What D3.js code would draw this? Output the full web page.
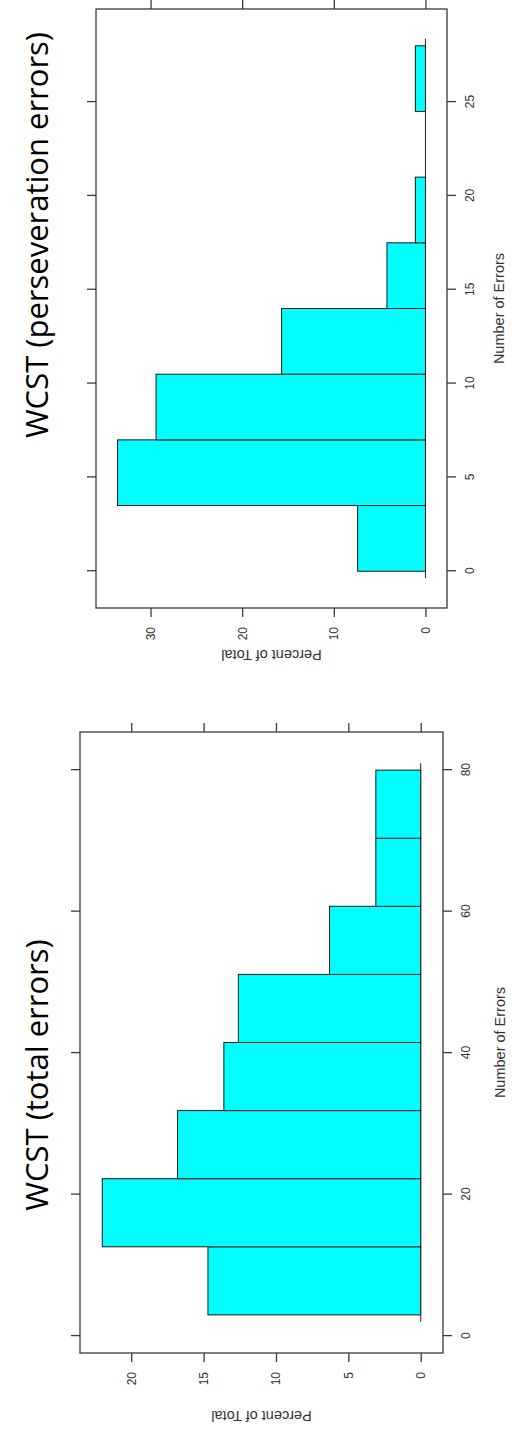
<!DOCTYPE html>
<html>
<head>
<meta charset="utf-8">
<script src="https://cdn.jsdelivr.net/npm/d3@7"></script>
<style>
  body { margin: 0; background: #fff; }
  svg { display: block; }
</style>
</head>
<body>
<svg id="chart" width="518" height="1434"></svg>
<script>
// WCST total errors: equal-width bins over 3..80
const totalBreaks = [3, 12.625, 22.25, 31.875, 41.5, 51.125, 60.75, 70.375, 80];
const totalPercent = [14.7, 22.0, 16.8, 13.6, 12.6, 6.3, 3.1, 3.1];
const totalErrorTicks = [0, 20, 40, 60, 80];
const totalPercentTicks = [0, 5, 10, 15, 20];

// WCST perseveration errors: bins of width 3.5 over 0..28
const persBreaks = [0, 3.5, 7, 10.5, 14, 17.5, 21, 24.5, 28];
const persPercent = [7.4, 33.6, 29.4, 15.7, 4.2, 1.1, 0, 1.1];
const persErrorTicks = [0, 5, 10, 15, 20, 25];
const persPercentTicks = [0, 10, 20, 30];

const svg = d3.select('#chart');
const axisColor = '#3a3a3a';
const labelFont = '"Liberation Sans", Arial, sans-serif';

// Each histogram is laid out as a normal lattice panel (errors along x, percent along y)
// and then turned a quarter turn counter-clockwise on the page.
function histogramPanel(o) {
  const W = o.bottom - o.top;   // panel width before rotation
  const H = o.right - o.left;   // panel height before rotation
  const g = svg.append('g')
    .attr('transform', `translate(${o.left},${o.bottom}) rotate(-90)`);

  const ext = d3.extent(o.breaks);
  const xPad = 0.07 * (ext[1] - ext[0]);
  const x = d3.scaleLinear().domain([ext[0] - xPad, ext[1] + xPad]).range([0, W]);
  const yMax = d3.max(o.percent);
  const yPad = 0.07 * yMax;
  const y = d3.scaleLinear().domain([-yPad, yMax + yPad]).range([H, 0]);

  const bins = o.percent.map((p, i) => ({ x0: o.breaks[i], x1: o.breaks[i + 1], p }));

  // zero line under the bars
  g.append('line')
    .attr('x1', x(ext[0]) - 7).attr('x2', x(ext[1]) + 7)
    .attr('y1', y(0)).attr('y2', y(0))
    .attr('stroke', '#222').attr('stroke-width', 1);

  g.selectAll('rect.bar').data(bins.filter(d => d.p > 0)).join('rect')
    .attr('class', 'bar')
    .attr('x', d => x(d.x0))
    .attr('width', d => x(d.x1) - x(d.x0))
    .attr('y', d => y(d.p))
    .attr('height', d => y(0) - y(d.p))
    .attr('fill', '#00FFFF')
    .attr('stroke', '#1a1a1a')
    .attr('stroke-width', 1);

  // panel box
  g.append('rect')
    .attr('x', 0).attr('y', 0).attr('width', W).attr('height', H)
    .attr('fill', 'none').attr('stroke', axisColor).attr('stroke-width', 1.3);

  const styleAxis = sel => {
    sel.select('.domain').remove();
    sel.selectAll('.tick line').attr('stroke', axisColor).attr('stroke-width', 1.3);
    sel.selectAll('.tick text')
      .attr('fill', '#333')
      .style('font-family', labelFont)
      .style('font-size', '12px');
  };

  g.append('g').attr('transform', `translate(0,${H})`)
    .call(d3.axisBottom(x).tickValues(o.errorTicks).tickSize(9).tickPadding(9))
    .call(styleAxis);
  g.append('g')
    .call(d3.axisTop(x).tickValues(o.errorTicks).tickSize(9).tickFormat(''))
    .call(styleAxis);
  g.append('g')
    .call(d3.axisLeft(y).tickValues(o.percentTicks).tickSize(9).tickPadding(10))
    .call(styleAxis);
  g.append('g').attr('transform', `translate(${W},0)`)
    .call(d3.axisRight(y).tickValues(o.percentTicks).tickSize(9).tickFormat(''))
    .call(styleAxis);

  g.append('text')
    .attr('x', W / 2).attr('y', H + o.xLabelGap)
    .attr('text-anchor', 'middle').attr('dominant-baseline', 'central')
    .attr('fill', '#333')
    .style('font-family', labelFont).style('font-size', '14.5px')
    .text('Number of Errors');

  g.append('text')
    .attr('transform', `translate(${-o.yLabelGap},${H / 2}) rotate(-90)`)
    .attr('text-anchor', 'middle').attr('dominant-baseline', 'central')
    .attr('fill', '#333')
    .style('font-family', labelFont).style('font-size', '14.5px')
    .text('Percent of Total');

  svg.append('text')
    .attr('transform', `translate(${o.titleX},${o.titleY}) rotate(-90)`)
    .attr('text-anchor', 'middle').attr('dominant-baseline', 'central')
    .attr('fill', '#000')
    .style('font-family', '"Open Sans", "Noto Sans", sans-serif')
    .style('font-size', o.titleSize + 'px')
    .text(o.title);
}

histogramPanel({
  left: 96, right: 447, top: 9, bottom: 608,
  breaks: persBreaks, percent: persPercent,
  errorTicks: persErrorTicks, percentTicks: persPercentTicks,
  xLabelGap: 52, yLabelGap: 47,
  title: 'WCST (perseveration errors)', titleX: 36, titleY: 235, titleSize: 31
});

histogramPanel({
  left: 80, right: 443, top: 732, bottom: 1353,
  breaks: totalBreaks, percent: totalPercent,
  errorTicks: totalErrorTicks, percentTicks: totalPercentTicks,
  xLabelGap: 57, yLabelGap: 63,
  title: 'WCST (total errors)', titleX: 36, titleY: 1075, titleSize: 31
});
</script>
</body>
</html>
